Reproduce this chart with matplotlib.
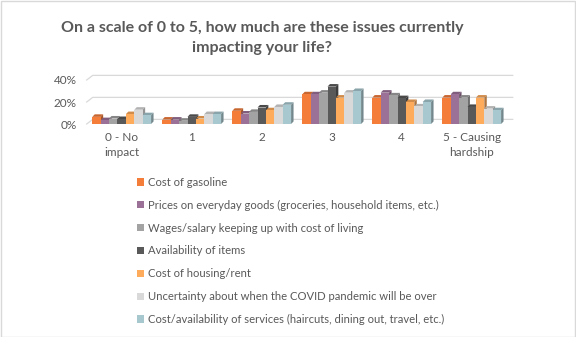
import numpy as np
import matplotlib.pyplot as plt
from matplotlib.patches import Polygon, Rectangle
from matplotlib.colors import to_rgb

# Data (percent of respondents)
categories = ['0 - No\nimpact', '1', '2', '3', '4', '5 - Causing\nhardship']
issues = [
    'Cost of gasoline',
    'Prices on everyday goods (groceries, household items, etc.)',
    'Wages/salary keeping up with cost of living',
    'Availability of items',
    'Cost of housing/rent',
    'Uncertainty about when the COVID pandemic will be over',
    'Cost/availability of services (haircuts, dining out, travel, etc.)',
]
gasoline = [6.5, 4, 12, 27, 24, 24]
everyday_goods = [3.5, 4, 9.5, 27, 28.5, 27]
wages = [5, 3, 11, 28.5, 26, 24]
availability = [4.5, 6.5, 15, 34, 23.5, 15.5]
housing = [9, 5, 12.5, 24, 20, 24]
covid = [13, 9, 15.5, 28.5, 16, 14]
services = [8, 9, 17.5, 30, 20, 12.5]
series = [gasoline, everyday_goods, wages, availability, housing, covid, services]

colors = ['#F47D3A', '#9C7198', '#A3A3A3', '#595959', '#FFAB5C', '#D9D9D9', '#A7C8CF']
text_color = '#595959'

plt.rcParams['font.family'] = ['Lato', 'DejaVu Sans']


def shade(c, f):
    r, g, b = to_rgb(c)
    return (r * f, g * f, b * f)


fig = plt.figure(figsize=(5.76, 3.37), dpi=100)
fig.patches.append(Rectangle((0.001, 0.001), 0.997, 0.996, transform=fig.transFigure,
                             fill=False, edgecolor='#D9D9D9', linewidth=1))

ax = fig.add_axes([86.7 / 576, 1 - 124 / 337, 420 / 576, 55 / 337])
ax.set_xlim(-0.5, len(categories) - 0.5)
ax.set_ylim(0, 50)

# back-wall gridlines with a little perspective
back_dx, back_dy = 0.086, 4.2
for v in [0, 20, 40]:
    ax.plot([-0.5, -0.5 + back_dx, len(categories) - 0.5 + back_dx],
            [v, v + back_dy, v + back_dy], color='#D9D9D9', lw=0.9,
            clip_on=False, zorder=0)

# pseudo 3D bars
n = len(series)
w = 0.12
ddx, ddy = 0.035, 2.3
x = np.arange(len(categories))
handles = []
for i, (vals, col) in enumerate(zip(series, colors)):
    xs = x - n * w / 2 + i * w
    bars = ax.bar(xs, vals, width=w, align='edge', color=col, linewidth=0,
                  zorder=2 + i * 3)
    handles.append(bars)
    for xb, h in zip(xs, vals):
        top = Polygon([(xb, h), (xb + w, h), (xb + w + ddx, h + ddy), (xb + ddx, h + ddy)],
                      closed=True, facecolor=shade(col, 0.82), linewidth=0,
                      zorder=1 + i * 3)
        side = Polygon([(xb + w, 0), (xb + w + ddx, ddy), (xb + w + ddx, h + ddy), (xb + w, h)],
                       closed=True, facecolor=shade(col, 0.68), linewidth=0,
                       zorder=1 + i * 3)
        ax.add_patch(top)
        ax.add_patch(side)

for s in ax.spines.values():
    s.set_visible(False)
ax.set_yticks([0, 20, 40])
ax.set_yticklabels(['0%', '20%', '40%'])
ax.set_xticks(x)
ax.set_xticklabels(categories, linespacing=1.4)
ax.tick_params(length=0, labelsize=8.5, labelcolor=text_color)
ax.tick_params(axis='y', pad=7)
ax.tick_params(axis='x', pad=6)

fig.text(262 / 576, 1 - 38 / 337,
         'On a scale of 0 to 5, how much are these issues currently\nimpacting your life?',
         ha='center', va='center', fontsize=11.5, fontweight='bold', color=text_color,
         linespacing=1.55)

fig.legend([h[0] for h in handles], issues, loc='upper left',
           bbox_to_anchor=(137 / 576, 1 - 177 / 337), frameon=False,
           fontsize=8.1, labelcolor=text_color, handlelength=0.6, handleheight=0.6,
           handletextpad=0.35, labelspacing=1.05, borderpad=0, borderaxespad=0)

fig.savefig('out.png', dpi=100)
